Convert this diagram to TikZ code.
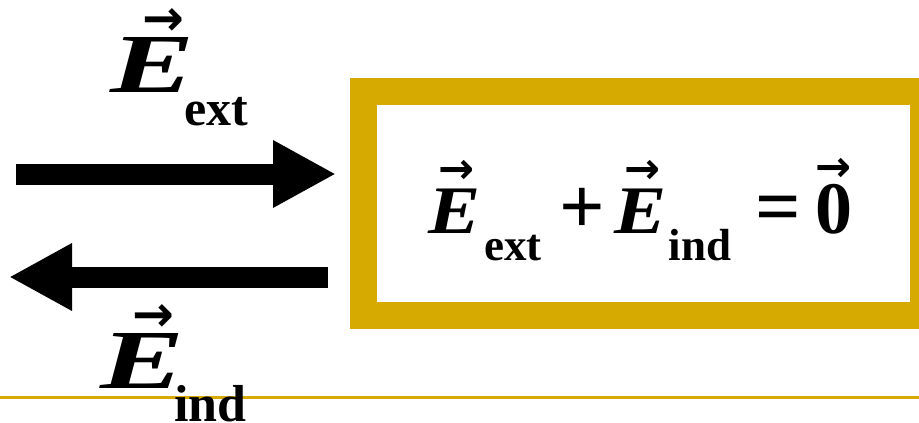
\documentclass[tikz,border=0pt]{standalone}
\usepackage{graphicx}
\usepackage{fontspec}
\setmainfont{Liberation Serif}
\newfontfamily\arrowfont{DejaVu Sans}
\usetikzlibrary{positioning, arrows.meta}
\definecolor{boxgold}{RGB}{214,170,0}

% arrow over a symbol: #1 body, #2 shift right, #3 raise, #4 arrow size
\newcommand{\vecover}[4]{\leavevmode\rlap{\kern#2\raisebox{#3}{\arrowfont\fontsize{#4}{#4}\selectfont\bfseries →}}#1}
\newcommand{\wideE}[1]{\scalebox{#1}[1]{\itshape E}}

\begin{document}
\begin{tikzpicture}[
    x=1pt, y=-1pt,
    goldbox/.style={draw=boxgold, line width=27pt, minimum width=560pt,
        minimum height=224pt, inner sep=0pt},
    lbl/.style={inner sep=0pt, font=\bfseries},
    fatarrow/.style={-{Triangle[length=63pt,width=63pt]}, line width=21pt},
    rule/.style={draw=boxgold, line width=3pt},
]
\useasboundingbox (0,0) rectangle (919,423);

% ====== RULE ======
\coordinate (rule-l) at (0,397);
\coordinate (rule-r) at (919,397);
\draw[rule] (rule-l) -- (rule-r);

% ====== BOX ======
\node[goldbox] (box) at (643.5,203.5) {};
\node[lbl, anchor=base west] (sum) at (428,233)
    {\fontsize{68}{68}\selectfont
     \vecover{\wideE{1.15}}{10pt}{50pt}{43}\kern4pt\raisebox{-27pt}{\fontsize{45}{45}\selectfont ext}%
     \kern18pt{\fontsize{80}{80}\selectfont +}\kern9pt
     \vecover{\wideE{1.15}}{10pt}{50pt}{43}\kern2pt\raisebox{-27pt}{\fontsize{45}{45}\selectfont ind}%
     \kern24pt{\fontsize{80}{80}\selectfont =}\kern15pt
     \vecover{\fontsize{74}{74}\selectfont 0}{0pt}{52pt}{43}};

% ====== ARROWS ======
\coordinate (ext-start) at (16,174);
\coordinate (ind-start) at (328,277);
\draw[fatarrow] (ext-start) -- ([xshift=-14pt]box.west |- ext-start);
\draw[fatarrow] (ind-start) -- (9,277);

% ====== LABELS ======
\node[lbl, anchor=base west] (E-ext) at (110,92)
    {\fontsize{84}{84}\selectfont
     \vecover{\wideE{1.5}}{32pt}{57pt}{50}\kern-10pt\raisebox{-33pt}{\fontsize{50}{50}\selectfont ext}};
\node[lbl, anchor=base west] (E-ind) at (100,388)
    {\fontsize{84}{84}\selectfont
     \vecover{\wideE{1.5}}{32pt}{57pt}{50}\kern-10pt\raisebox{-33pt}{\fontsize{52}{52}\selectfont ind}};

\end{tikzpicture}
\end{document}
